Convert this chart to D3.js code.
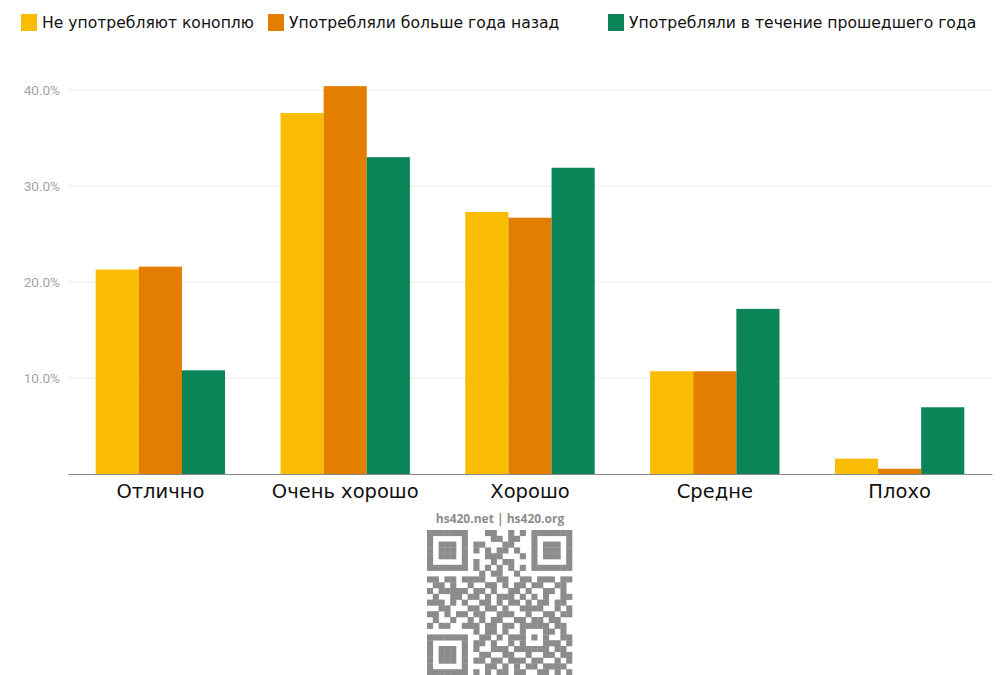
<!DOCTYPE html>
<html>
<head>
<meta charset="utf-8">
<script src="https://cdn.jsdelivr.net/npm/d3@7"></script>
<style>
  body { margin: 0; background: #fff; }
  svg { display: block; }
</style>
</head>
<body>
<div id="chart"></div>
<script>
// data (percent)
const categories = ["Отлично", "Очень хорошо", "Хорошо", "Средне", "Плохо"];
const seriesNames = ["Не употребляют коноплю", "Употребляли больше года назад", "Употребляли в течение прошедшего года"];
const neverUsed = [21.3, 37.6, 27.3, 10.7, 1.6];
const usedLongAgo = [21.6, 40.4, 26.7, 10.7, 0.55];
const usedLastYear = [10.8, 33.0, 31.9, 17.2, 6.95];
const yTicks = [10, 20, 30, 40];
const watermark = "hs420.net | hs420.org";
// QR code modules (1 = dark)
const qrRows = [
  "1111111000110010101111111",
  "1000001000011011001000001",
  "1011101011000110001011101",
  "1011101010101101001011101",
  "1011101000111000101011101",
  "1000001010010110001000001",
  "1111111010101010101111111",
  "0000000001011001000000000",
  "1101101111001100110111011",
  "0110100100110101101100110",
  "1011111011010011010011010",
  "0100110110101110101010011",
  "1110101001101011010110110",
  "0011000110110100111100101",
  "1101011011001110010011011",
  "0100100101011001101101100",
  "1011001110110110111110110",
  "0000000010110100100011010",
  "1111111001101011101010011",
  "1000001011010010100011101",
  "1011101010011101111110110",
  "1011101001100110010011011",
  "1011101011011011101100101",
  "1000001000110101011011110",
  "1111111010101101100110101"
];

const colors = ["#fbbc04", "#e37e00", "#0b8457"];
const seriesValues = [neverUsed, usedLongAgo, usedLastYear];

const W = 1000, H = 675;
const margin = {top: 90, right: 8, bottom: 201, left: 68};
const width = W - margin.left - margin.right,
      height = H - margin.top - margin.bottom;

const svg = d3.select("#chart")
  .append("svg")
    .attr("width", W)
    .attr("height", H);

const g = svg.append("g")
    .attr("transform", `translate(${margin.left}, ${margin.top})`);

// scales
const x0 = d3.scaleBand()
  .domain(categories)
  .range([0, width])
  .paddingInner(0.3)
  .paddingOuter(0.15);

const x1 = d3.scaleBand()
  .domain(d3.range(seriesNames.length))
  .range([0, x0.bandwidth()]);

const y = d3.scaleLinear()
  .domain([0, 40])
  .range([height, 0]);

// gridlines
g.selectAll(".grid")
  .data(yTicks)
  .join("line")
    .attr("x1", 0)
    .attr("x2", width)
    .attr("y1", d => y(d))
    .attr("y2", d => y(d))
    .attr("stroke", "#ebebeb")
    .attr("stroke-width", 1);

// y axis labels
const yAxis = d3.axisLeft(y)
  .tickValues(yTicks)
  .tickSize(0)
  .tickPadding(8)
  .tickFormat(d => d.toFixed(1) + "%");

g.append("g")
  .call(yAxis)
  .call(a => a.select(".domain").remove())
  .selectAll("text")
    .attr("fill", "#a3a3a3")
    .style("font-family", "Roboto, sans-serif")
    .style("font-size", "13.5px");

// bars
const rows = categories.map((c, i) => ({cat: c, values: seriesValues.map(s => s[i])}));

g.selectAll(".group")
  .data(rows)
  .join("g")
    .attr("transform", d => `translate(${x0(d.cat)}, 0)`)
  .selectAll("rect")
  .data(d => d.values.map((v, k) => ({k: k, v: v})))
  .join("rect")
    .attr("x", d => x1(d.k))
    .attr("width", x1.bandwidth())
    .attr("y", d => y(d.v))
    .attr("height", d => y(0) - y(d.v))
    .attr("fill", d => colors[d.k]);

// x axis
const xAxis = d3.axisBottom(x0).tickSize(0).tickPadding(10);
g.append("g")
  .attr("transform", `translate(0, ${height})`)
  .call(xAxis)
  .call(a => a.select(".domain").attr("stroke", "#888").attr("stroke-width", 1.2))
  .selectAll("text")
    .attr("fill", "#111")
    .style("font-family", "'DejaVu Sans', sans-serif")
    .style("font-size", "19.5px");

// legend
const legendX = [21, 268, 608];
const legend = svg.selectAll(".legend")
  .data(seriesNames)
  .join("g")
    .attr("transform", (d, i) => `translate(${legendX[i]}, 14)`);

legend.append("rect")
  .attr("width", 16)
  .attr("height", 17)
  .attr("fill", (d, i) => colors[i]);

legend.append("text")
  .attr("x", 21)
  .attr("y", 14)
  .style("font-family", "'DejaVu Sans', sans-serif")
  .style("font-size", "15.6px")
  .attr("fill", "#111")
  .text(d => d);

// watermark + qr
svg.append("text")
  .attr("x", W / 2)
  .attr("y", 523)
  .attr("text-anchor", "middle")
  .style("font-family", "'Open Sans', sans-serif")
  .style("font-weight", "bold")
  .style("font-size", "12px")
  .attr("fill", "#8c8c8c")
  .text(watermark);

const qrN = qrRows.length;
const qx = d3.scaleLinear().domain([0, qrN]).range([427, 572]);
const qy = d3.scaleLinear().domain([0, qrN]).range([530, 675]);
const cells = [];
qrRows.forEach((row, r) => row.split("").forEach((c, k) => { if (c === "1") cells.push({r: r, c: k}); }));

svg.append("g")
  .selectAll("rect")
  .data(cells)
  .join("rect")
    .attr("x", d => qx(d.c))
    .attr("y", d => qy(d.r))
    .attr("width", qx(1) - qx(0) + 0.3)
    .attr("height", qy(1) - qy(0) + 0.3)
    .attr("fill", "#8c8c8c");
</script>
</body>
</html>
